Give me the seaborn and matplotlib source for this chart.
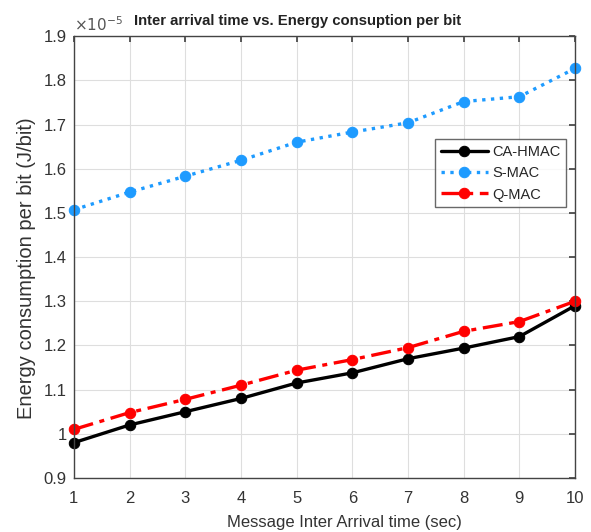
import numpy as np
import pandas as pd
import matplotlib
matplotlib.use('Agg')
import matplotlib.pyplot as plt
import seaborn as sns
from matplotlib.ticker import FuncFormatter, MultipleLocator

# --- data (energy per bit, in units of 1e-5 J/bit) ---
arrival_time = [1, 2, 3, 4, 5, 6, 7, 8, 9, 10]
ca_hmac = [0.980, 1.020, 1.050, 1.080, 1.115, 1.138, 1.170, 1.194, 1.220, 1.290]
s_mac = [1.507, 1.547, 1.583, 1.619, 1.660, 1.683, 1.704, 1.752, 1.763, 1.827]
q_mac = [1.010, 1.048, 1.078, 1.110, 1.144, 1.168, 1.195, 1.232, 1.254, 1.300]

series_names = ['CA-HMAC', 'S-MAC', 'Q-MAC']
series_values = [ca_hmac, s_mac, q_mac]
colors = ['#000000', '#1E9BFF', '#FF0000']
styles = ['-', ':', (0, (6, 2, 1.5, 2))]

sns.set_theme(style='whitegrid')
plt.rcParams['font.family'] = ['Liberation Sans', 'DejaVu Sans']

fig = plt.figure(figsize=(5.91, 5.32), dpi=100)
ax = fig.add_axes([0.125, 0.1015, 0.848, 0.8305])

for name, vals, col, ls in zip(series_names, series_values, colors, styles):
    df = pd.DataFrame({'t': arrival_time, 'e': vals})
    sns.lineplot(data=df, x='t', y='e', ax=ax, color=col, linestyle=ls,
                 linewidth=2.4, marker='o', markersize=7.5,
                 markeredgecolor=col, label=name, clip_on=False, zorder=3)

ax.set_xlim(1, 10)
ax.set_ylim(0.9, 1.9)
ax.xaxis.set_major_locator(MultipleLocator(1))
ax.yaxis.set_major_locator(MultipleLocator(0.1))
ax.yaxis.set_major_formatter(FuncFormatter(lambda v, p: '1' if abs(v - 1) < 1e-9 else f'{v:.1f}'))

ax.grid(True, color='#dedede', linewidth=0.8)
for sp in ax.spines.values():
    sp.set_color('#444444')
    sp.set_linewidth(1.0)
    sp.set_zorder(4)
ax.tick_params(direction='in', length=4, color='#444444', labelsize=12,
               labelcolor='#333333', top=True, right=True)
ax.tick_params(axis='x', pad=9)
ax.tick_params(axis='y', pad=5)

ax.set_xlabel('Message Inter Arrival time (sec)', fontsize=12, color='#333333')
ax.xaxis.set_label_coords(0.539, -0.083)
ax.set_ylabel('Energy consumption per bit (J/bit)', fontsize=14.5, color='#333333')
ax.yaxis.set_label_coords(-0.076, 0.476)
ax.set_title('Inter arrival time vs. Energy consuption per bit',
             fontsize=10.7, fontweight='bold', color='#222222', pad=8, x=0.447)
ax.text(0.0, 1.005, r'$\times10^{-5}$', transform=ax.transAxes, fontsize=11,
        color='#555555', ha='left', va='bottom')

leg = ax.legend(loc='upper right', bbox_to_anchor=(0.982, 0.767), fontsize=10.5,
                frameon=True, fancybox=False, edgecolor='#444444',
                handlelength=3.2, handletextpad=0.3, borderpad=0.4,
                labelspacing=0.5, borderaxespad=0)
leg.get_frame().set_linewidth(1.0)

plt.savefig('out.png', dpi=100)
